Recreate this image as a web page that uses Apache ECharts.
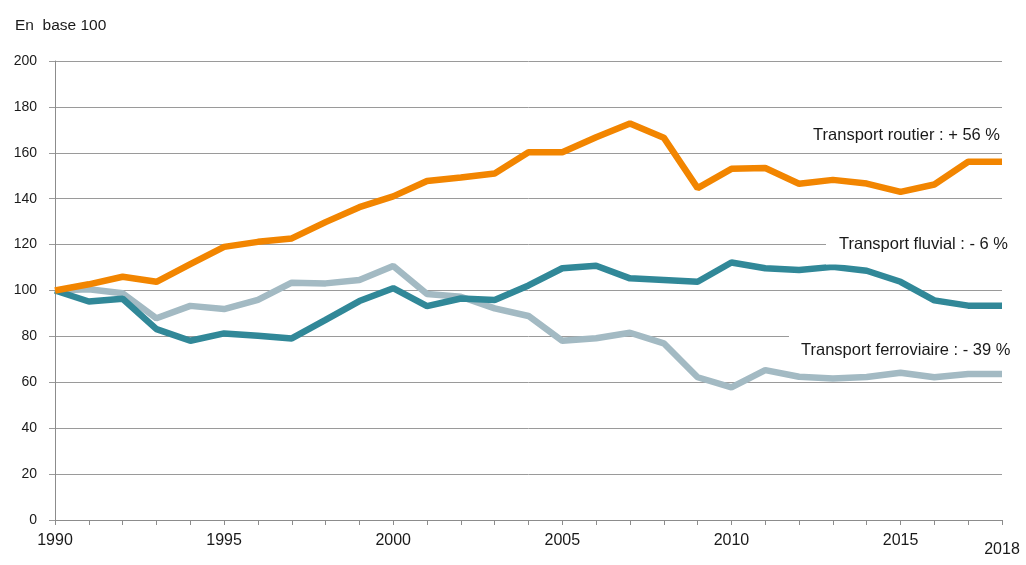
<!DOCTYPE html>
<html>
<head>
<meta charset="utf-8">
<script src="https://cdn.jsdelivr.net/npm/echarts@6/dist/echarts.min.js"></script>
<style>html,body{margin:0;padding:0;background:#fff}#c{width:1026px;height:565px}</style>
</head>
<body>
<div id="c"></div>
<script>
const years = [1990,1991,1992,1993,1994,1995,1996,1997,1998,1999,2000,2001,2002,2003,2004,2005,2006,2007,2008,2009,2010,2011,2012,2013,2014,2015,2016,2017,2018];
const routier = [100,102.7,106,103.8,111.5,119,121.2,122.7,129.8,136.3,141,147.7,149.2,151,160.2,160.2,166.8,172.8,166.6,144.6,153,153.4,146.5,148.2,146.6,143,146.2,156.1,156.1];
const fluvial = [100,95.2,96.4,83.2,78.1,81.3,80.3,79.1,87.2,95.4,101,93.2,96.5,95.9,102.2,109.7,110.8,105.3,104.6,103.8,112.2,109.7,108.9,110.3,108.6,103.8,95.7,93.4,93.4];
const ferro = [100,100.5,98.8,87.9,93.3,91.9,95.9,103.4,103.1,104.6,110.7,98.5,97.3,92.2,88.9,78.1,79.2,81.6,77,62.2,57.8,65.3,62.4,61.7,62.3,64.2,62.2,63.6,63.6];
const yTicks = [0,20,40,60,80,100,120,140,160,180,200];
const labels = ['Transport routier : + 56 %','Transport fluvial : - 6 %','Transport ferroviaire : - 39 %'];
const unitLabel = 'En  base 100';

const toPts = arr => years.map((y,i)=>[y,arr[i]]);
const font = '"Liberation Sans", Arial, sans-serif';
const chart = echarts.init(document.getElementById('c'));
chart.setOption({
  animation:false,
  backgroundColor:'#fff',
  grid:{left:55,right:24,top:61,bottom:45},
  xAxis:{type:'value',min:years[0],max:years[years.length-1],interval:1,
    axisLine:{lineStyle:{color:'#8c8c8c',width:1}},
    axisTick:{show:true,length:5,lineStyle:{color:'#8c8c8c'}},
    splitLine:{show:false},
    axisLabel:{fontFamily:font,fontSize:16,color:'#1a1a1a',margin:13,showMaxLabel:true,showMinLabel:true,
      formatter:v=>v%5===0?String(v):(v===2018?'{lo|2018}':''),
      rich:{lo:{fontFamily:font,fontSize:16,color:'#1a1a1a',padding:[9,0,0,0]}}}
  },
  yAxis:{type:'value',min:yTicks[0],max:yTicks[yTicks.length-1],interval:20,
    axisLine:{show:true,lineStyle:{color:'#8c8c8c',width:1}},
    axisTick:{show:true,length:6,lineStyle:{color:'#9a9a9a'}},
    splitLine:{show:true,lineStyle:{color:'#9a9a9a',width:1}},
    axisLabel:{fontFamily:font,fontSize:14,color:'#1a1a1a',margin:18}
  },
  series:[
    {type:'line',name:'ferroviaire',data:toPts(ferro),showSymbol:false,symbol:'none',lineStyle:{width:6.5,color:'#a3bac3'},z:2},
    {type:'line',name:'fluvial',data:toPts(fluvial),showSymbol:false,symbol:'none',lineStyle:{width:6.5,color:'#318898'},z:3},
    {type:'line',name:'routier',data:toPts(routier),showSymbol:false,symbol:'none',lineStyle:{width:6.5,color:'#f28500'},z:4}
  ],
  graphic:[
    {type:'text',x:15,y:26,z:100,style:{text:unitLabel,font:'15.5px '+font,fill:'#1a1a1a',verticalAlign:'middle'}},
    {type:'text',x:1000,y:135.5,z:100,style:{text:labels[0],font:'16.5px '+font,fill:'#1a1a1a',align:'right',verticalAlign:'middle'}},
    {type:'rect',z:99,shape:{x:826,y:228,width:200,height:36.5},style:{fill:'#fff'}},
    {type:'text',x:839,y:244,z:100,style:{text:labels[1],font:'16.5px '+font,fill:'#1a1a1a',verticalAlign:'middle'}},
    {type:'rect',z:99,shape:{x:789,y:330,width:237,height:39},style:{fill:'#fff'}},
    {type:'text',x:801,y:350,z:100,style:{text:labels[2],font:'16.5px '+font,fill:'#1a1a1a',verticalAlign:'middle'}}
  ]
});
</script>
</body>
</html>
